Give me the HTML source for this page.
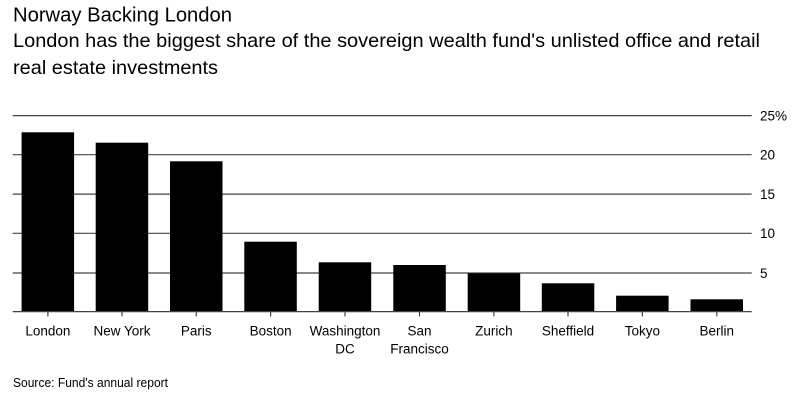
<!DOCTYPE html>
<html>
<head>
<meta charset="utf-8">
<style>
html,body{margin:0;padding:0;background:#fff;}
svg{display:block;}
text{font-family:"Liberation Sans",Arial,sans-serif;fill:#000;}
</style>
</head>
<body>
<svg width="800" height="404" viewBox="0 0 800 404" xmlns="http://www.w3.org/2000/svg">
  <rect width="800" height="404" fill="#fff"/>
  <text x="13" y="21.3" font-size="20" textLength="219" lengthAdjust="spacingAndGlyphs">Norway Backing London</text>
  <text x="13" y="46.8" font-size="19.5" textLength="747" lengthAdjust="spacingAndGlyphs">London has the biggest share of the sovereign wealth fund's unlisted office and retail</text>
  <text x="13" y="74.2" font-size="19.5" textLength="205" lengthAdjust="spacingAndGlyphs">real estate investments</text>

  <g stroke="#444" stroke-width="1.2">
    <line x1="12.7" x2="751.7" y1="115.6" y2="115.6"/>
    <line x1="12.7" x2="751.7" y1="154.7" y2="154.7"/>
    <line x1="12.7" x2="751.7" y1="194.1" y2="194.1"/>
    <line x1="12.7" x2="751.7" y1="233.3" y2="233.3"/>
    <line x1="12.7" x2="751.7" y1="273.0" y2="273.0"/>
  </g>

  <g fill="#000">
    <rect x="21.6" y="132.3" width="52.5" height="179.2"/>
    <rect x="95.7" y="142.7" width="52.5" height="168.8"/>
    <rect x="170.0" y="161.3" width="52.5" height="150.2"/>
    <rect x="244.3" y="241.7" width="52.5" height="69.8"/>
    <rect x="318.7" y="262.3" width="52.5" height="49.2"/>
    <rect x="393.3" y="265.0" width="52.5" height="46.5"/>
    <rect x="467.7" y="273.3" width="52.5" height="38.2"/>
    <rect x="541.8" y="283.3" width="52.5" height="28.2"/>
    <rect x="616.1" y="295.7" width="52.5" height="15.8"/>
    <rect x="690.5" y="299.3" width="52.5" height="12.2"/>
  </g>

  <line x1="12.7" x2="751.7" y1="311.6" y2="311.6" stroke="#444" stroke-width="1.3"/>
  <g stroke="#444" stroke-width="1.2">
    <line x1="47.9" x2="47.9" y1="311.6" y2="316.5"/>
    <line x1="122.0" x2="122.0" y1="311.6" y2="316.5"/>
    <line x1="196.3" x2="196.3" y1="311.6" y2="316.5"/>
    <line x1="270.6" x2="270.6" y1="311.6" y2="316.5"/>
    <line x1="345.0" x2="345.0" y1="311.6" y2="316.5"/>
    <line x1="419.5" x2="419.5" y1="311.6" y2="316.5"/>
    <line x1="493.9" x2="493.9" y1="311.6" y2="316.5"/>
    <line x1="568.0" x2="568.0" y1="311.6" y2="316.5"/>
    <line x1="642.4" x2="642.4" y1="311.6" y2="316.5"/>
    <line x1="716.8" x2="716.8" y1="311.6" y2="316.5"/>
  </g>

  <g font-size="13.5" text-anchor="middle">
    <text x="47.9" y="335.7">London</text>
    <text x="122.0" y="335.7">New York</text>
    <text x="196.3" y="335.7">Paris</text>
    <text x="270.6" y="335.7">Boston</text>
    <text x="345.0" y="335.7">Washington</text>
    <text x="345.0" y="353.5">DC</text>
    <text x="419.5" y="335.7">San</text>
    <text x="419.5" y="353.5">Francisco</text>
    <text x="493.9" y="335.7">Zurich</text>
    <text x="568.0" y="335.7">Sheffield</text>
    <text x="642.4" y="335.7">Tokyo</text>
    <text x="716.8" y="335.7">Berlin</text>
  </g>

  <g font-size="13.5">
    <text x="760" y="120.4">25%</text>
    <text x="760" y="159.6">20</text>
    <text x="760" y="199.0">15</text>
    <text x="760" y="238.2">10</text>
    <text x="760" y="277.9">5</text>
  </g>

  <text x="13" y="387" font-size="13" textLength="155" lengthAdjust="spacingAndGlyphs">Source: Fund's annual report</text>
</svg>
</body>
</html>
